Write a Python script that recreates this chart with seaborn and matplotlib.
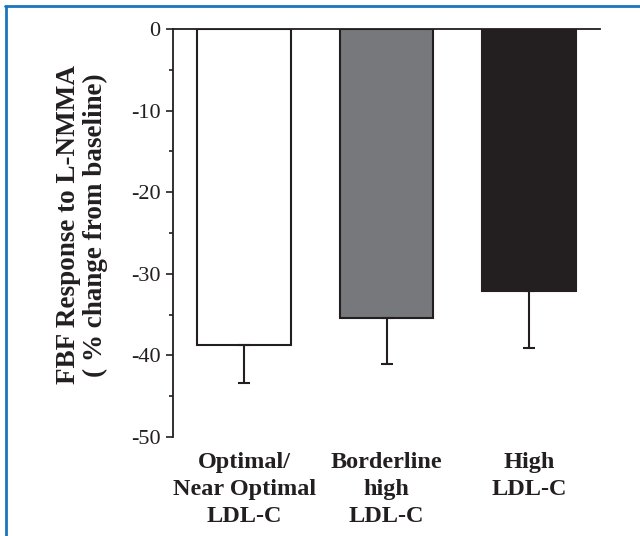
import matplotlib
matplotlib.use("Agg")
import matplotlib.pyplot as plt
from matplotlib.lines import Line2D
import seaborn as sns
import pandas as pd
import numpy as np

# ---- data ----
categories = ["Optimal/\nNear Optimal\nLDL-C", "Borderline\nhigh\nLDL-C", "High\nLDL-C"]
values = [-38.7, -35.4, -32.1]
errors = [4.7, 5.6, 7.0]
bar_colors = ["#ffffff", "#77787b", "#231f20"]
yticks = [0, -10, -20, -30, -40, -50]
ytick_labels = ["0", "-10", "-20", "-30", "-40", "-50"]
yminor = [-5, -15, -25, -35, -45]
ylabel = "FBF Response to L-NMMA\n( % change from baseline)"

sns.set_theme(style="white")
plt.rcParams["font.family"] = ["Liberation Serif", "DejaVu Serif"]

ink = "#231f20"
fig = plt.figure(figsize=(6.4, 5.36), dpi=100)
ax = fig.add_axes([173 / 640, 1 - 437 / 536, 427 / 640, 408 / 536])

df = pd.DataFrame({"cat": categories, "val": values})
sns.barplot(data=df, x="cat", y="val", hue="cat", order=categories,
            hue_order=categories, palette=bar_colors, saturation=1,
            width=0.66, edgecolor=ink, linewidth=1.5, errorbar=None,
            legend=False, ax=ax)

xpos = np.arange(len(categories))
ax.errorbar(xpos, values, yerr=[errors, np.zeros(len(errors))], fmt="none",
            ecolor=ink, elinewidth=1.5, capsize=4, capthick=1.5, zorder=3)

ax.set_xlim(-0.5, 2.5)
ax.set_ylim(-50, 0)
ax.set_xlabel("")
ax.set_ylabel("")

for s in ["right", "bottom"]:
    ax.spines[s].set_visible(False)
for s in ["left", "top"]:
    ax.spines[s].set_color(ink)
    ax.spines[s].set_linewidth(1.3)

ax.set_yticks(yticks, ytick_labels)
ax.set_yticks(yminor, minor=True)
ax.tick_params(axis="y", which="major", direction="out", length=5, width=1.2,
               color=ink, pad=4, labelsize=16, labelcolor=ink, left=True)
ax.tick_params(axis="y", which="minor", direction="out", length=3, width=1.2,
               color=ink, left=True)
ax.tick_params(axis="x", length=0, pad=10.5, labelsize=17.5, labelcolor=ink)
for lbl in ax.get_xticklabels():
    lbl.set_fontweight("bold")
    lbl.set_linespacing(1.38)

fig.text(82 / 640, 1 - 225 / 536, ylabel, rotation=90, ha="center", va="center",
         fontsize=19.5, fontweight="bold", color=ink, linespacing=1.05,
         multialignment="center")

blue = "#1b75bb"
fig.add_artist(Line2D([6 / 640, 6 / 640], [0, 1 - 6 / 536], transform=fig.transFigure,
                      color=blue, lw=2))
fig.add_artist(Line2D([5 / 640, 1], [1 - 6 / 536, 1 - 6 / 536], transform=fig.transFigure,
                      color=blue, lw=2))

fig.savefig("out.png", dpi=100)
